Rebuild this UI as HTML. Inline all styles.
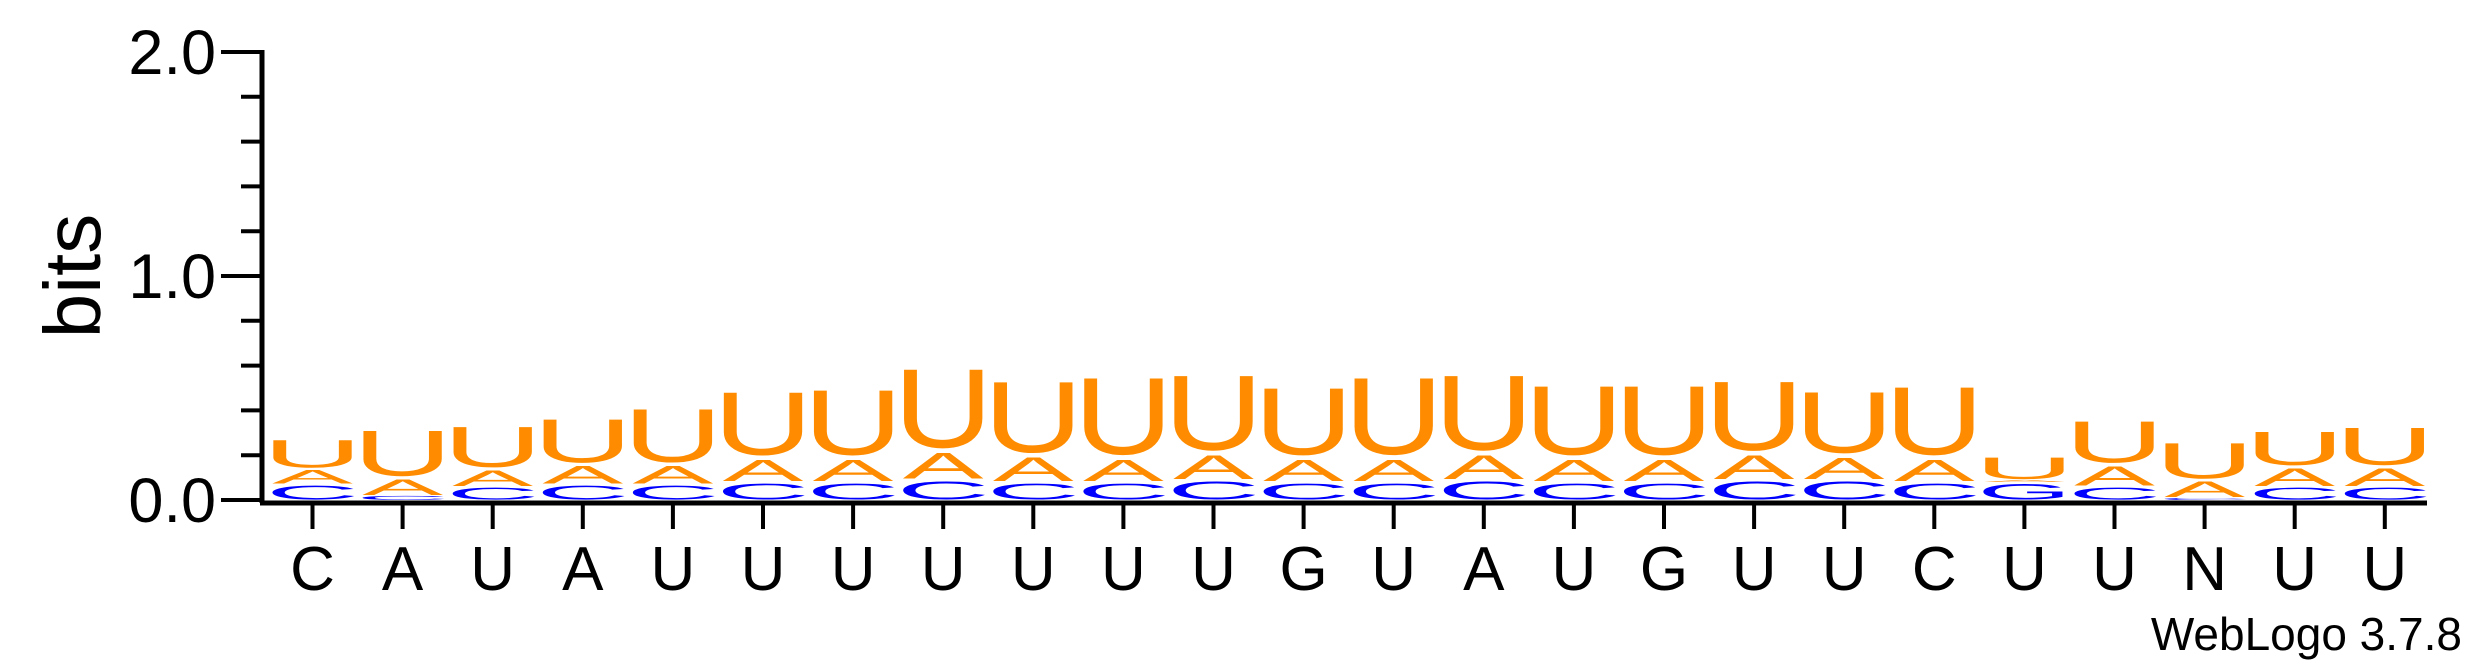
<!DOCTYPE html>
<html><head><meta charset="utf-8"><style>
html,body{margin:0;padding:0;background:#fff;}
svg{display:block;}
text{font-family:"Liberation Sans",Arial,sans-serif;}
</style></head><body>
<svg id="chart" width="2475" height="667" viewBox="0 0 2475 667" xmlns="http://www.w3.org/2000/svg">
<g id="axes"></g><g id="stacks"></g>
</svg>
<script>
const positions = ["C","A","U","A","U","U","U","U","U","U","U","G","U","A","U","G","U","U","C","U","U","N","U","U"];
const totalBits = [0.28,0.33,0.345,0.38,0.43,0.51,0.52,0.62,0.56,0.58,0.59,0.53,0.58,0.59,0.54,0.54,0.56,0.51,0.535,0.20,0.37,0.27,0.32,0.34];
const blueBits = [0.07,0.02,0.06,0.07,0.07,0.08,0.08,0.09,0.08,0.08,0.09,0.08,0.08,0.09,0.08,0.08,0.09,0.09,0.08,0.08,0.06,0.01,0.06,0.06];
const blueLetter = ["C","C","C","C","C","C","C","C","C","C","C","C","C","C","C","C","C","C","C","G","C","C","C","C"];
const aBits = [0.07,0.08,0.08,0.09,0.09,0.11,0.11,0.13,0.12,0.11,0.12,0.11,0.11,0.12,0.11,0.11,0.12,0.11,0.11,0.01,0.10,0.08,0.09,0.09];
const yTicks = ["0.0","1.0","2.0"];

const NS="http://www.w3.org/2000/svg";
const x0=312.5, dx=90.1, y0=500, bit=224, lw=80;
const X=i=>x0+dx*i, Y=b=>y0-b*bit;
const ax=document.getElementById('axes'), st=document.getElementById('stacks');
function mk(tag,attrs,parent){const e=document.createElementNS(NS,tag);for(const k in attrs)e.setAttribute(k,attrs[k]);parent.appendChild(e);return e;}

let e=mk('line',{x1:262,y1:Y(2)-2,x2:262,y2:y0+3,stroke:'#000','stroke-width':5},ax);


e=mk('line',{x1:260,y1:y0+3,x2:2427,y2:y0+3,stroke:'#000','stroke-width':5},ax);


for(let k=0;k<=10;k++){
  const b=k*0.2, major=(k%5===0);
  e=mk('line',{x1:major?221:241,y1:Y(b),x2:262,y2:Y(b),stroke:'#000','stroke-width':4},ax);
  
  
}
yTicks.forEach(t=>{
  e=mk('text',{x:216,y:Y(parseFloat(t))+22,'font-size':63,'text-anchor':'end'},ax);
  e.textContent=t;
  
  
});
e=mk('text',{x:0,y:0,'font-size':80,'text-anchor':'middle',transform:'translate(100,276) rotate(-90)'},ax);
e.textContent='bits';


e=mk('text',{x:2462,y:650,'font-size':46,'text-anchor':'end'},ax);
e.textContent='WebLogo 3.7.8';



const inkW={U:58,A:66,C:62,G:66};
function letter(ch,color,bottom,h,cx){
  if(h<=0.001)return;
  const px=h*bit*0.93, cap=74;
  const sy=px/cap, sx=lw/inkW[ch];
  const t=mk('text',{x:0,y:-1.5,'font-size':100,fill:color,'text-anchor':'middle',
    transform:`translate(${cx},${Y(bottom)-h*bit*0.02}) scale(${sx},${sy})`},st);
  t.textContent=ch;
  
  
}
positions.forEach((p,i)=>{
  const cx=X(i);
  e=mk('line',{x1:cx,y1:y0+3,x2:cx,y2:529,stroke:'#000','stroke-width':4},ax);
  
  
  e=mk('text',{x:cx,y:590,'font-size':62,'text-anchor':'middle'},ax);
  e.textContent=p;
  
  
  const b=blueBits[i], a=aBits[i], u=Math.max(0,totalBits[i]-b-a);
  letter(blueLetter[i],'#0000ff',0,b,cx);
  letter('A','#ff8c00',b,a,cx);
  letter('U','#ff8c00',b+a,u,cx);
});
</script>
</body></html>
